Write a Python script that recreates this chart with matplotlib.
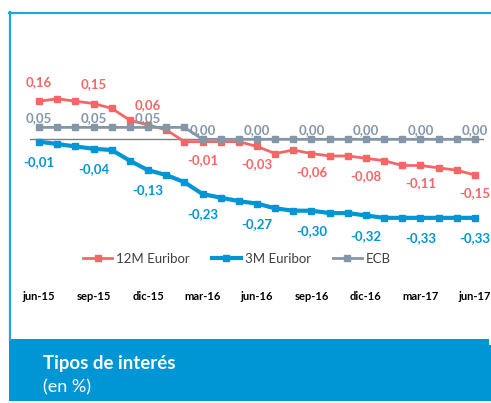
import numpy as np
import matplotlib.pyplot as plt
from matplotlib.patches import Rectangle, FancyBboxPatch
from matplotlib.lines import Line2D

plt.rcParams['font.family'] = ['Lato', 'DejaVu Sans']

# monthly data, jun-15 .. jun-17
tick_labels = ['jun-15', 'sep-15', 'dic-15', 'mar-16', 'jun-16',
               'sep-16', 'dic-16', 'mar-17', 'jun-17']
euribor_12m = [0.16, 0.17, 0.16, 0.15, 0.13, 0.08, 0.06, 0.04, -0.01,
               -0.01, -0.01, -0.01, -0.03, -0.06, -0.045, -0.06, -0.07,
               -0.07, -0.08, -0.09, -0.11, -0.11, -0.12, -0.13, -0.15]
euribor_3m = [-0.01, -0.02, -0.03, -0.04, -0.045, -0.09, -0.13, -0.15,
              -0.18, -0.23, -0.245, -0.26, -0.27, -0.29, -0.30, -0.30,
              -0.31, -0.31, -0.32, -0.33, -0.33, -0.33, -0.33, -0.33, -0.33]
ecb = [0.05] * 9 + [0.00] * 16

RED = '#F76666'
BLUE = '#0096D6'
GREY = '#8497A8'
FRAME = '#1BA9DD'

W, H = 491, 403
fig = plt.figure(figsize=(W / 100, H / 100), dpi=100)
fig.patch.set_facecolor('white')


def fx(x):
    return x / W


def fy(y):
    return 1 - y / H


# frame and bottom band
fig.add_artist(Line2D([fx(9), 1], [fy(12.5), fy(12.5)], color=FRAME, lw=1.6))
fig.add_artist(Line2D([fx(9.5), fx(9.5)], [fy(12), fy(340)], color=FRAME, lw=1.6))
fig.add_artist(FancyBboxPatch((fx(17), fy(401)), fx(500), fy(345) - fy(401),
                              boxstyle='round,pad=0,rounding_size=0.02',
                              transform=fig.transFigure, facecolor=BLUE,
                              edgecolor='none', mutation_aspect=W / H))
fig.add_artist(Rectangle((fx(9), fy(401)), fx(480), fy(339) - fy(401),
                         transform=fig.transFigure, facecolor=BLUE,
                         edgecolor='none'))
fig.text(fx(43), fy(364), 'Tipos de interés', color='white', fontsize=13.4,
         fontweight='bold', va='center', ha='left')
fig.text(fx(43), fy(387), '(en %)', color='white', fontsize=13,
         va='center', ha='left')

ax = fig.add_axes([fx(30), fy(285), fx(484) - fx(30), fy(40) - fy(285)])
x = np.arange(len(euribor_12m))
ax.set_xlim(-0.5, len(x) - 0.5)
ax.set_ylim(-0.612, 0.417)
ax.axhline(0, color='#7F7F7F', lw=1, zorder=1)

ax.plot(x, euribor_12m, color=RED, lw=2, marker='s', ms=5, label='12M Euribor', zorder=3)
ax.plot(x, euribor_3m, color=BLUE, lw=3, marker='s', ms=5, label='3M Euribor', zorder=3)
ax.plot(x, ecb, color=GREY, lw=2, marker='s', ms=5, label='ECB', zorder=4)


def fmt(v):
    return f'{v:.2f}'.replace('.', ',')


for i in range(0, len(x), 3):
    v = euribor_12m[i]
    off = 14 if v > 0 else -13
    ax.annotate(fmt(v), (i, v), xytext=(0, off), textcoords='offset points',
                ha='center', va='center', color=RED, fontsize=9.5, fontweight='bold')
    v = euribor_3m[i]
    ax.annotate(fmt(v), (i, v), xytext=(0, -14.5), textcoords='offset points',
                ha='center', va='center', color=BLUE, fontsize=9.5, fontweight='bold')
    v = ecb[i]
    ax.annotate(fmt(v), (i, v), xytext=(0, 6.5), textcoords='offset points',
                ha='center', va='center', color=GREY, fontsize=9.5, fontweight='bold')

ax.set_xticks(x[::3])
ax.set_xticklabels(tick_labels, fontsize=8, fontweight='bold')
ax.tick_params(axis='x', length=0, pad=4)
ax.set_yticks([])
for s in ax.spines.values():
    s.set_visible(False)

ax.legend(loc='center', bbox_to_anchor=(fx(237), fy(259)),
          bbox_transform=fig.transFigure, ncol=3, frameon=False,
          fontsize=9.5, handlelength=2.2, columnspacing=1.65, handletextpad=0.3,
          labelcolor='#404040')

fig.savefig('out.png', dpi=100)
